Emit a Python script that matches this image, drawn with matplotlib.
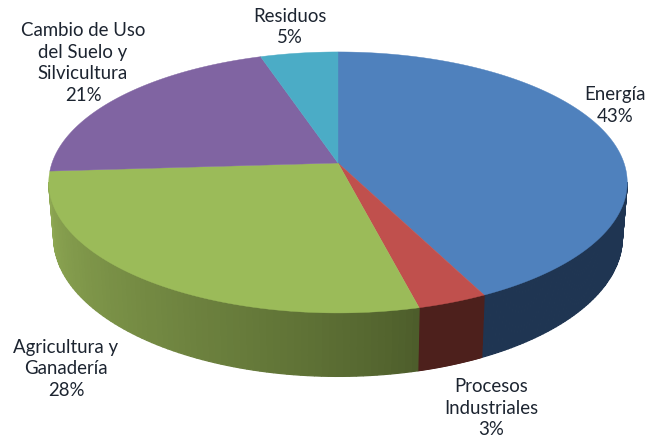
import matplotlib
matplotlib.use('Agg')
import matplotlib.pyplot as plt
from matplotlib.colors import to_rgb
from matplotlib.patches import Polygon
import numpy as np

# Werte aus dem Bild, im Uhrzeigersinn ab 12 Uhr
labels = ['Energía\n43%', 'Procesos\nIndustriales\n3%', 'Agricultura y\nGanadería\n28%',
          'Cambio de Uso\ndel Suelo y\nSilvicultura\n21%', 'Residuos\n5%']
values = [42.7, 3.4, 27.9, 21, 5]
top_colors = ['#4f81bd', '#c0504d', '#9bbb59', '#8064a2', '#4bacc6']
wall_left = ['#1f3552', '#4d201c', '#8ea853', '#8064a2', '#4bacc6']
wall_right = ['#1f3552', '#4d201c', '#4c5c2a', '#8064a2', '#4bacc6']
label_pos = [(615, 105.5), (491, 408), (66, 369), (83, 63), (290, 27)]

# Perspektive der Tortenscheibe in Pixeln
cx, cy = 338, 163
a, b, p = 286, 127.6, 0.149
depth = 54


def project(theta, drop=0.0):
    w = 1 + p * np.cos(theta)
    shrink = 1 - 0.017 * drop / depth
    x = cx + a * np.sin(theta) / w * shrink
    y = cy - b * np.cos(theta) / w + drop / w
    return x, y


fig = plt.figure(figsize=(6.54, 4.43), dpi=100)
ax = fig.add_axes([0, 0, 1, 1])
ax.set_xlim(0, 654)
ax.set_ylim(443, 0)
ax.axis('off')

edges = 2 * np.pi * np.cumsum([0] + values) / sum(values)

# sichtbarer Bereich der Wand: zwischen den seitlichen Extrempunkten der Ellipse
vis_start = np.arccos(-p)
vis_stop = 2 * np.pi - vis_start

# Seitenwand zuerst, in schmalen Streifen fuer den Farbverlauf
for i in range(len(values)):
    start = max(edges[i], vis_start)
    stop = min(edges[i + 1], vis_stop)
    if stop <= start:
        continue
    th = np.linspace(start, stop, 80)
    x0, y0 = project(th)
    x1, y1 = project(th, depth)
    c_left = np.array(to_rgb(wall_left[i]))
    c_right = np.array(to_rgb(wall_right[i]))
    for j in range(len(th) - 1):
        # th laeuft im Uhrzeigersinn, also hier von rechts nach links
        t = (j + 0.5) / (len(th) - 1)
        col = c_right + (c_left - c_right) * t ** 0.8
        ax.add_patch(Polygon([(x0[j], y0[j]), (x0[j + 1], y0[j + 1]), (x1[j + 1], y1[j + 1]), (x1[j], y1[j])],
                             closed=True, facecolor=col, edgecolor=col, linewidth=0.9))

# Oberseite
for i in range(len(values)):
    th = np.linspace(edges[i], edges[i + 1], 200)
    x, y = project(th)
    pts = [(cx, cy)] + list(zip(x, y))
    ax.add_patch(Polygon(pts, closed=True, facecolor=top_colors[i], edgecolor=top_colors[i], linewidth=0.3))

for text, (tx, ty) in zip(labels, label_pos):
    ax.text(tx, ty, text, ha='center', va='center', fontsize=13.4, family='Lato',
            color='#1c2430', linespacing=1.33)

fig.savefig('out.png', dpi=100)
